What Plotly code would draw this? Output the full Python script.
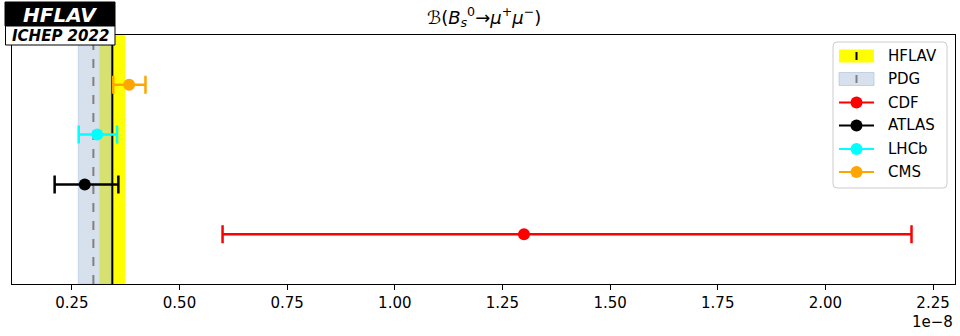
import plotly.graph_objects as go

# ---------------- data (units of 1e-8) ----------------
experiments = ["CDF", "ATLAS", "LHCb", "CMS"]
central = [1.30, 0.280, 0.309, 0.383]
err_lo = [0.70, 0.070, 0.043, 0.037]
err_hi = [0.90, 0.078, 0.046, 0.038]
row_pos = [1, 2, 3, 4]
exp_colors = ["#ff0000", "#000000", "#00ffff", "#ffa500"]

hflav_val = 0.344
hflav_err = 0.030
pdg_val = 0.300
pdg_lo = 0.265
pdg_hi = 0.341

tick_vals = [0.25, 0.50, 0.75, 1.00, 1.25, 1.50, 1.75, 2.00, 2.25]
tick_text = ["0.25", "0.50", "0.75", "1.00", "1.25", "1.50", "1.75", "2.00", "2.25"]
legend_names = ["HFLAV", "PDG"] + experiments

# ---------------- layout helpers (pixel -> paper) ----------------
W, H = 960, 336
X0, X1, Y0, Y1 = 12, 955, 35, 284


def px(x):
    return (x - X0) / (X1 - X0)


def py(y):
    return (Y1 - y) / (Y1 - Y0)


FONT = "DejaVu Sans"
FS = 15
fig = go.Figure()

for name, c, lo, hi, yv, col in zip(experiments, central, err_lo, err_hi, row_pos, exp_colors):
    fig.add_trace(go.Scatter(
        x=[c], y=[yv], mode="markers", name=name, showlegend=False,
        marker=dict(color=col, size=12, line=dict(width=0)),
        error_x=dict(type="data", symmetric=False, array=[hi], arrayminus=[lo],
                     color=col, thickness=2.5, width=9),
    ))

shapes = []
# HFLAV band and PDG band
shapes.append(dict(type="rect", xref="x", yref="paper", x0=hflav_val - hflav_err, x1=hflav_val + hflav_err,
                   y0=0, y1=1, fillcolor="#ffff00", line=dict(width=0), layer="below"))
shapes.append(dict(type="rect", xref="x", yref="paper", x0=pdg_lo, x1=pdg_hi,
                   y0=0, y1=1, fillcolor="rgba(176,196,222,0.5)",
                   line=dict(width=1, color="rgba(176,196,222,0.6)"), layer="below"))
shapes.append(dict(type="line", xref="x", yref="paper", x0=hflav_val, x1=hflav_val, y0=0, y1=1,
                   line=dict(color="black", width=2), layer="below"))
shapes.append(dict(type="line", xref="x", yref="paper", x0=pdg_val, x1=pdg_val, y0=0, y1=1,
                   line=dict(color="gray", width=2, dash="dash"), layer="below"))

# ---------------- logo ----------------
shapes.append(dict(type="rect", xref="paper", yref="paper", x0=px(5), x1=px(115), y0=py(26), y1=py(2),
                   fillcolor="black", line=dict(color="black", width=1)))
shapes.append(dict(type="rect", xref="paper", yref="paper", x0=px(5.5), x1=px(115), y0=py(45), y1=py(26),
                   fillcolor="white", line=dict(color="black", width=1)))

annotations = [
    dict(text="<b><i>HFLAV</i></b>", xref="paper", yref="paper", x=px(60), y=py(14.5),
         xanchor="center", yanchor="middle", showarrow=False,
         font=dict(family=FONT, size=20, color="white")),
    dict(text="<b><i>ICHEP 2022</i></b>", xref="paper", yref="paper", x=px(60), y=py(36),
         xanchor="center", yanchor="middle", showarrow=False,
         font=dict(family=FONT, size=15, color="black")),
    dict(text="ℬ(<i>B</i><sub><i>s</i></sub><sup>0</sup>→<i>μ</i><sup>+</sup><i>μ</i><sup>−</sup>)",
         xref="paper", yref="paper", x=px(483.5), y=py(17), xanchor="center", yanchor="middle",
         showarrow=False, font=dict(family=FONT, size=18, color="black")),
    dict(text="1e−8", xref="paper", yref="paper", x=px(955), y=py(322), xanchor="right",
         yanchor="middle", showarrow=False, font=dict(family=FONT, size=FS, color="black")),
]

# ---------------- manual legend ----------------
LX0, LX1, LY0, LY1 = 833, 947, 42, 188
r = 4
rx = r / (X1 - X0)
ry = r / (Y1 - Y0)
a, b, c_, d = px(LX0), px(LX1), py(LY1), py(LY0)
path = (f"M{a+rx},{c_} L{b-rx},{c_} Q{b},{c_} {b},{c_+ry} L{b},{d-ry} Q{b},{d} {b-rx},{d} "
        f"L{a+rx},{d} Q{a},{d} {a},{d-ry} L{a},{c_+ry} Q{a},{c_} {a+rx},{c_} Z")
shapes.append(dict(type="path", xref="paper", yref="paper", path=path,
                   fillcolor="rgba(255,255,255,0.8)", line=dict(color="#cccccc", width=1)))

row_y = [56, 79, 102.5, 125.5, 149, 172]
hx0, hx1, hmid = 839, 874, 856.5
# HFLAV patch
shapes.append(dict(type="rect", xref="paper", yref="paper", x0=px(hx0), x1=px(hx1),
                   y0=py(row_y[0] + 6.5), y1=py(row_y[0] - 6.5), fillcolor="#ffff00", line=dict(width=0)))
shapes.append(dict(type="line", xref="paper", yref="paper", x0=px(hmid), x1=px(hmid),
                   y0=py(row_y[0] + 4), y1=py(row_y[0] - 4), line=dict(color="black", width=2)))
# PDG patch
shapes.append(dict(type="rect", xref="paper", yref="paper", x0=px(hx0), x1=px(hx1),
                   y0=py(row_y[1] + 6.5), y1=py(row_y[1] - 6.5), fillcolor="rgba(176,196,222,0.5)",
                   line=dict(width=1, color="rgba(176,196,222,0.7)")))
shapes.append(dict(type="line", xref="paper", yref="paper", x0=px(hmid), x1=px(hmid),
                   y0=py(row_y[1] + 4), y1=py(row_y[1] - 4), line=dict(color="gray", width=2)))
# experiment handles
for yy, col in zip(row_y[2:], exp_colors):
    shapes.append(dict(type="line", xref="paper", yref="paper", x0=px(hx0), x1=px(hx1),
                       y0=py(yy), y1=py(yy), line=dict(color=col, width=2)))
    shapes.append(dict(type="circle", xref="paper", yref="paper",
                       x0=px(hmid - 6), x1=px(hmid + 6), y0=py(yy + 6), y1=py(yy - 6),
                       fillcolor=col, line=dict(width=0)))

for name, yy in zip(legend_names, row_y):
    annotations.append(dict(text=name, xref="paper", yref="paper", x=px(886), y=py(yy),
                            xanchor="left", yanchor="middle", showarrow=False,
                            font=dict(family=FONT, size=FS, color="black")))

fig.update_layout(
    width=W, height=H,
    margin=dict(l=X0, r=W - X1, t=Y0, b=H - Y1, pad=0),
    paper_bgcolor="white", plot_bgcolor="white",
    showlegend=False,
    shapes=shapes, annotations=annotations,
    xaxis=dict(range=[0.111, 2.301], tickvals=tick_vals, ticktext=tick_text,
               ticks="outside", ticklen=5, tickwidth=1, tickcolor="black",
               showline=True, mirror=True, linecolor="black", linewidth=1,
               showgrid=False, zeroline=False,
               tickfont=dict(family=FONT, size=FS, color="black")),
    yaxis=dict(range=[0, 5], showticklabels=False, ticks="", showgrid=False, zeroline=False,
               showline=True, mirror=True, linecolor="black", linewidth=1),
)

fig.write_html("out.html")
